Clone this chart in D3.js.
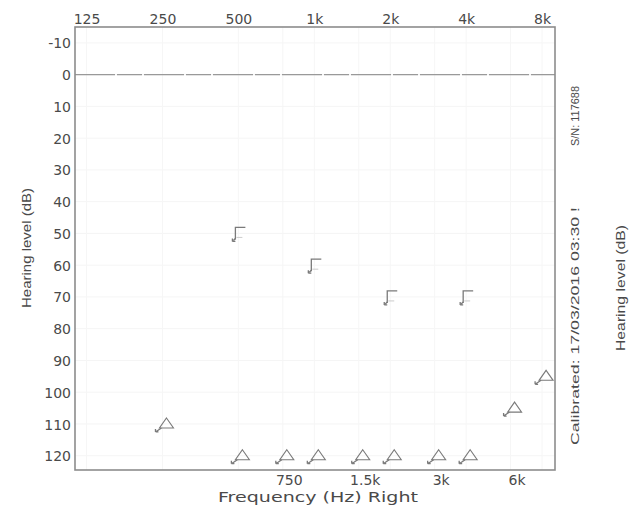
<!DOCTYPE html>
<html>
<head>
<meta charset="utf-8">
<script src="https://cdn.jsdelivr.net/npm/d3@7"></script>
<style>
  body { margin: 0; background: #fff; }
  svg { display: block; }
  text { fill: #4a4a4a; }
</style>
</head>
<body>
<div id="chart"></div>
<script>
// frequencies on the top and bottom axes
const topFreqs = [125, 250, 500, 1000, 2000, 4000, 8000];
const topLabels = ["125", "250", "500", "1k", "2k", "4k", "8k"];
const bottomFreqs = [750, 1500, 3000, 6000];
const bottomLabels = ["750", "1.5k", "3k", "6k"];
const dbTicks = [-10, 0, 10, 20, 30, 40, 50, 60, 70, 80, 90, 100, 110, 120];

// bone conduction (bracket symbol)
const boneFreqs = [500, 1000, 2000, 4000];
const boneDb = [50, 60, 70, 70];

// no-response triangles
const triFreqs = [250, 500, 750, 1000, 1500, 2000, 3000, 4000, 6000, 8000];
const triDb = [110, 120, 120, 120, 120, 120, 120, 120, 105, 95];

const W = 629, H = 512;
const plotL = 75, plotR = 555, plotT = 27, plotB = 470;

const svg = d3.select("#chart").append("svg")
    .attr("width", W)
    .attr("height", H);

const x = d3.scaleLog().domain([112.5, 9000]).range([plotL, plotR]);
const y = d3.scaleLinear().domain([-15, 124.5]).range([plotT, plotB]);

// very faint grid
svg.append("g").selectAll("line")
    .data(dbTicks)
    .join("line")
    .attr("x1", plotL).attr("x2", plotR)
    .attr("y1", d => y(d)).attr("y2", d => y(d))
    .attr("stroke", "#f5f5f5");
svg.append("g").selectAll("line")
    .data(topFreqs.concat(bottomFreqs))
    .join("line")
    .attr("x1", d => x(d)).attr("x2", d => x(d))
    .attr("y1", plotT).attr("y2", plotB)
    .attr("stroke", "#f6f6f6");

// 0 dB reference line
svg.append("line")
    .attr("x1", plotL).attr("x2", plotR)
    .attr("y1", y(0)).attr("y2", y(0))
    .attr("stroke", "#999")
    .attr("stroke-width", 1.4)
    .attr("stroke-dasharray", "40,2,25,2");

// frame
svg.append("rect")
    .attr("x", plotL).attr("y", plotT)
    .attr("width", plotR - plotL).attr("height", plotB - plotT)
    .attr("fill", "none")
    .attr("stroke", "#8c8c8c")
    .attr("stroke-width", 1.6);

const tickFont = g => g.selectAll("text")
    .attr("font-family", "DejaVu Sans, sans-serif")
    .attr("font-size", 14)
    .attr("fill", "#4a4a4a");

// top axis
svg.append("g")
    .attr("transform", `translate(0,${plotT - 3})`)
    .call(d3.axisTop(x).tickValues(topFreqs).tickFormat((d, i) => topLabels[i]).tickSize(0).tickPadding(0))
    .call(g => g.select(".domain").remove())
    .call(tickFont);

// bottom axis
svg.append("g")
    .attr("transform", `translate(0,${plotB + 1})`)
    .call(d3.axisBottom(x).tickValues(bottomFreqs).tickFormat((d, i) => bottomLabels[i]).tickSize(0).tickPadding(4))
    .call(g => g.select(".domain").remove())
    .call(tickFont)
    .call(g => g.selectAll("text").attr("dx", 6));

// left axis
svg.append("g")
    .attr("transform", `translate(${plotL - 4},0)`)
    .call(d3.axisLeft(y).tickValues(dbTicks).tickFormat(d => String(d)).tickSize(0).tickPadding(0))
    .call(g => g.select(".domain").remove())
    .call(tickFont)
    .call(g => g.selectAll("text").attr("dy", "0.36em"));

// axis titles
svg.append("text")
    .attr("transform", "translate(31,248) rotate(-90)")
    .attr("text-anchor", "middle")
    .attr("font-family", "Liberation Sans, Arial, sans-serif")
    .attr("font-size", 12)
    .attr("fill", "#555")
    .attr("textLength", 120)
    .attr("lengthAdjust", "spacingAndGlyphs")
    .text("Hearing level (dB)");

svg.append("text")
    .attr("transform", "translate(625,288) rotate(-90)")
    .attr("text-anchor", "middle")
    .attr("font-family", "Liberation Sans, Arial, sans-serif")
    .attr("font-size", 12)
    .attr("fill", "#555")
    .attr("textLength", 126)
    .attr("lengthAdjust", "spacingAndGlyphs")
    .text("Hearing level (dB)");

svg.append("text")
    .attr("transform", "translate(579,116) rotate(-90)")
    .attr("text-anchor", "middle")
    .attr("font-family", "Liberation Sans, Arial, sans-serif")
    .attr("font-size", 11.5)
    .attr("fill", "#555")
    .attr("textLength", 60)
    .attr("lengthAdjust", "spacingAndGlyphs")
    .text("S/N: 117688");

svg.append("text")
    .attr("transform", "translate(579,326) rotate(-90)")
    .attr("text-anchor", "middle")
    .attr("font-family", "Liberation Sans, Arial, sans-serif")
    .attr("font-size", 11.5)
    .attr("fill", "#555")
    .attr("textLength", 238)
    .attr("lengthAdjust", "spacingAndGlyphs")
    .text("Calibrated: 17/03/2016 03:30 !");

svg.append("text")
    .attr("x", 318).attr("y", 502)
    .attr("text-anchor", "middle")
    .attr("font-family", "DejaVu Sans, sans-serif")
    .attr("font-size", 14)
    .attr("fill", "#4a4a4a")
    .attr("textLength", 200)
    .attr("lengthAdjust", "spacingAndGlyphs")
    .text("Frequency (Hz) Right");

const markColor = "#7a7a7a";

// bracket symbols
const bone = svg.append("g").selectAll("g")
    .data(boneFreqs.map((f, i) => ({ f, db: boneDb[i] })))
    .join("g")
    .attr("transform", d => `translate(${x(d.f)},${y(d.db)})`);
bone.append("path")
    .attr("d", "M-3,6 L-3,-6 L7,-6")
    .attr("fill", "none")
    .attr("stroke", markColor)
    .attr("stroke-width", 1.3);
bone.append("path")
    .attr("d", "M-3,5 L-5,7 M-6,8 L-6,5 M-6,8 L-3,8")
    .attr("fill", "none")
    .attr("stroke", markColor)
    .attr("stroke-width", 1.3);
bone.append("line")
    .attr("x1", -2).attr("x2", 4).attr("y1", 4).attr("y2", 4)
    .attr("stroke", "#ccc");

// no-response triangles with arrow
const tri = svg.append("g").selectAll("g")
    .data(triFreqs.map((f, i) => ({ f, db: triDb[i] })))
    .join("g")
    .attr("transform", d => `translate(${x(d.f) + 4},${y(d.db)})`);
tri.append("path")
    .attr("d", "M0,-6 L7,4 L-7,4 Z")
    .attr("fill", "none")
    .attr("stroke", markColor)
    .attr("stroke-width", 1.1);
tri.append("path")
    .attr("d", "M-5,4 L-11,8 M-11,8 L-11,5 M-11,8 L-8,8")
    .attr("fill", "none")
    .attr("stroke", markColor)
    .attr("stroke-width", 1.3);
</script>
</body>
</html>
